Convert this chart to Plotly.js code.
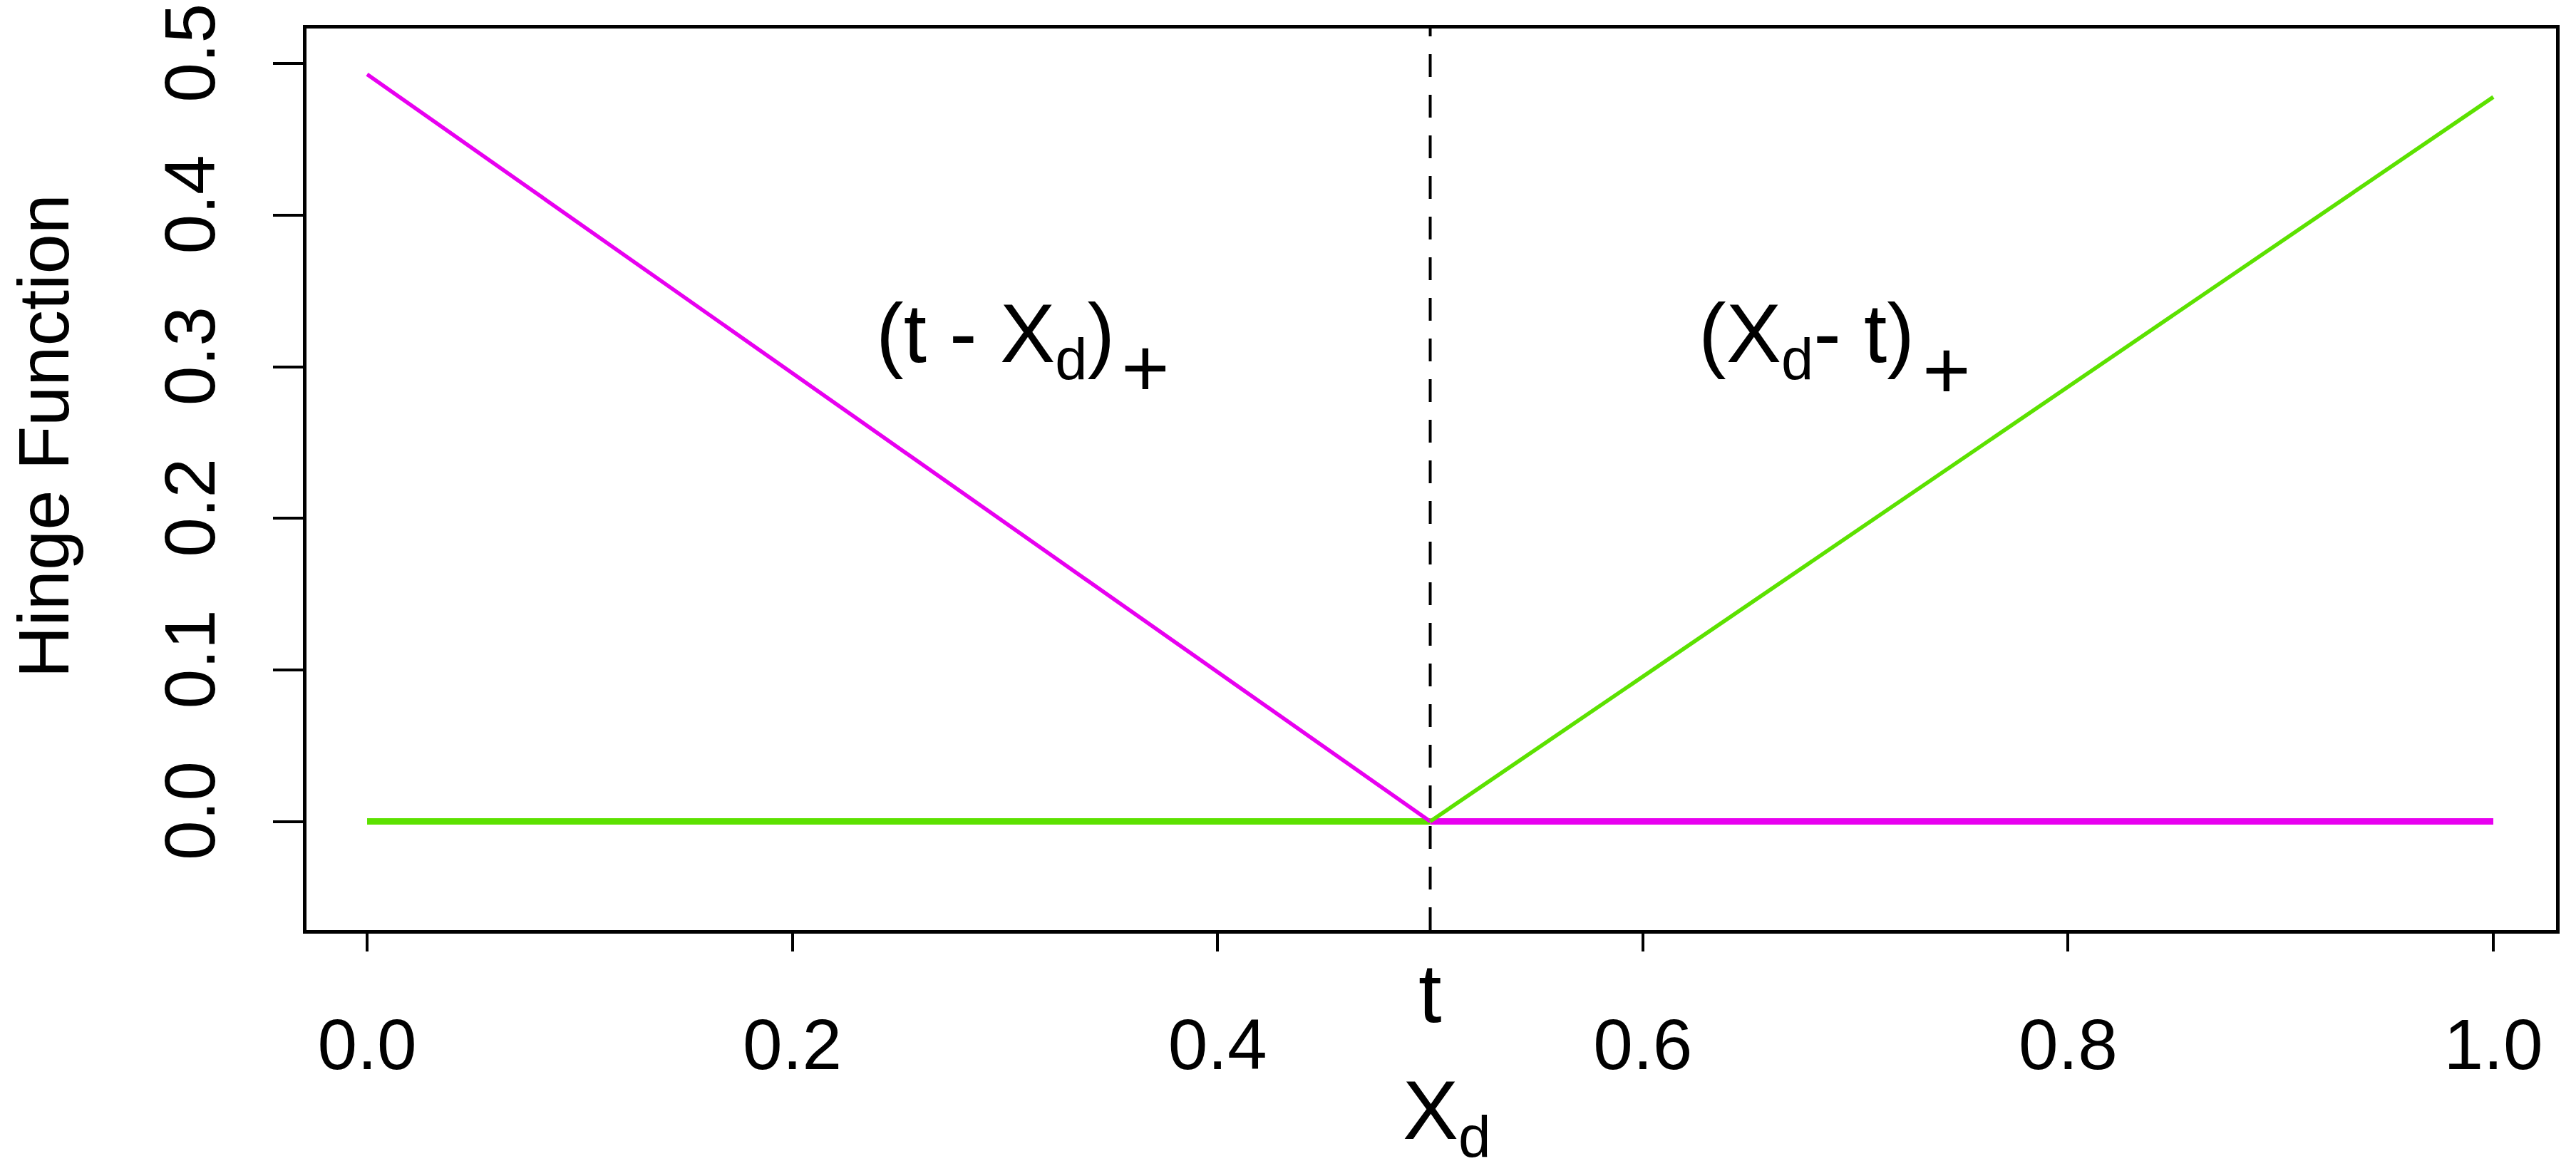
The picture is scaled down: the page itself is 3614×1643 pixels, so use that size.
<!DOCTYPE html>
<html>
<head>
<meta charset="utf-8">
<script src="https://cdn.plot.ly/plotly-3.0.1.min.js"></script>
<style>
  html, body { margin: 0; padding: 0; background: #fff; }
  #plot { width: 3614px; height: 1643px; }
</style>
</head>
<body>
<div id="plot"></div>
<script>
// hinge functions around the knot t
const knot = 0.5;
const hingeX = [0, 0.5, 1.0];
const leftHinge = [0.493, 0, 0];    // (t - Xd)+
const rightHinge = [0, 0, 0.478];   // (Xd - t)+
const xTickVals = [0, 0.2, 0.4, 0.6, 0.8, 1.0];
const xTickText = ['0.0', '0.2', '0.4', '0.6', '0.8', '1.0'];
const yTickVals = [0, 0.1, 0.2, 0.3, 0.4, 0.5];
const yTickText = ['0.0', '0.1', '0.2', '0.3', '0.4', '0.5'];

const magenta = '#E800F0';
const green = '#5CE100';
const fam = 'Liberation Sans, Arial, sans-serif';

function seg(xs, ys, from, to, color, w) {
    return {
        x: xs.slice(from, to), y: ys.slice(from, to),
        type: 'scatter', mode: 'lines',
        line: { color: color, width: w },
        hoverinfo: 'skip', showlegend: false
    };
}

const data = [
    seg(hingeX, rightHinge, 0, 2, green, 9),
    seg(hingeX, leftHinge, 0, 2, magenta, 5.5),
    seg(hingeX, leftHinge, 1, 3, magenta, 9),
    seg(hingeX, rightHinge, 1, 3, green, 5.5)
];

const axisCommon = {
    showline: true, linecolor: '#000', linewidth: 5, mirror: true,
    showgrid: false, zeroline: false,
    ticks: 'outside', tickcolor: '#000', tickwidth: 4,
    tickfont: { family: fam, size: 100, color: '#000' }
};

const layout = {
    width: 3614, height: 1643,
    margin: { l: 430, r: 28, t: 40, b: 338 },
    paper_bgcolor: '#fff', plot_bgcolor: '#fff',
    xaxis: Object.assign({}, axisCommon, {
        range: [-0.0285, 1.0295],
        tickmode: 'array', tickvals: xTickVals, ticktext: xTickText,
        ticklen: 25, ticklabelstandoff: 45
    }),
    yaxis: Object.assign({}, axisCommon, {
        range: [-0.0717, 0.5232],
        tickmode: 'array', tickvals: yTickVals, ticktext: yTickText,
        ticklen: 42, tickangle: -90, ticklabelstandoff: 42
    }),
    shapes: [{
        type: 'line', xref: 'x', yref: 'paper',
        x0: knot, x1: knot, y0: 0, y1: 1,
        line: { color: '#000', width: 4, dash: '32px,25px' }
    }],
    annotations: [
        { text: '(t - X<sub>d</sub>)', xref: 'x', yref: 'y', x: 0.2954, y: 0.318,
          xanchor: 'center', yanchor: 'middle', showarrow: false,
          font: { family: fam, size: 116, color: '#000' } },
        { text: '+', xref: 'x', yref: 'y', x: 0.366, y: 0.2994,
          xanchor: 'center', yanchor: 'middle', showarrow: false,
          font: { family: fam, size: 116, color: '#000' } },
        { text: '(X<sub>d</sub>- t)', xref: 'x', yref: 'y', x: 0.677, y: 0.318,
          xanchor: 'center', yanchor: 'middle', showarrow: false,
          font: { family: fam, size: 116, color: '#000' } },
        { text: '+', xref: 'x', yref: 'y', x: 0.743, y: 0.298,
          xanchor: 'center', yanchor: 'middle', showarrow: false,
          font: { family: fam, size: 116, color: '#000' } },
        { text: 't', xref: 'x', yref: 'paper', x: knot, y: -0.0701,
          xanchor: 'center', yanchor: 'middle', showarrow: false,
          font: { family: fam, size: 117, color: '#000' } },
        { text: 'X<sub>d</sub>', xref: 'x', yref: 'paper', x: 0.508, y: -0.206,
          xanchor: 'center', yanchor: 'middle', showarrow: false,
          font: { family: fam, size: 117, color: '#000' } },
        { text: 'Hinge Function', xref: 'paper', yref: 'paper', x: -0.117, y: 0.548,
          textangle: -90, xanchor: 'center', yanchor: 'middle', showarrow: false,
          font: { family: fam, size: 101, color: '#000' } }
    ]
};

Plotly.newPlot('plot', data, layout, { staticPlot: true });
</script>
</body>
</html>
